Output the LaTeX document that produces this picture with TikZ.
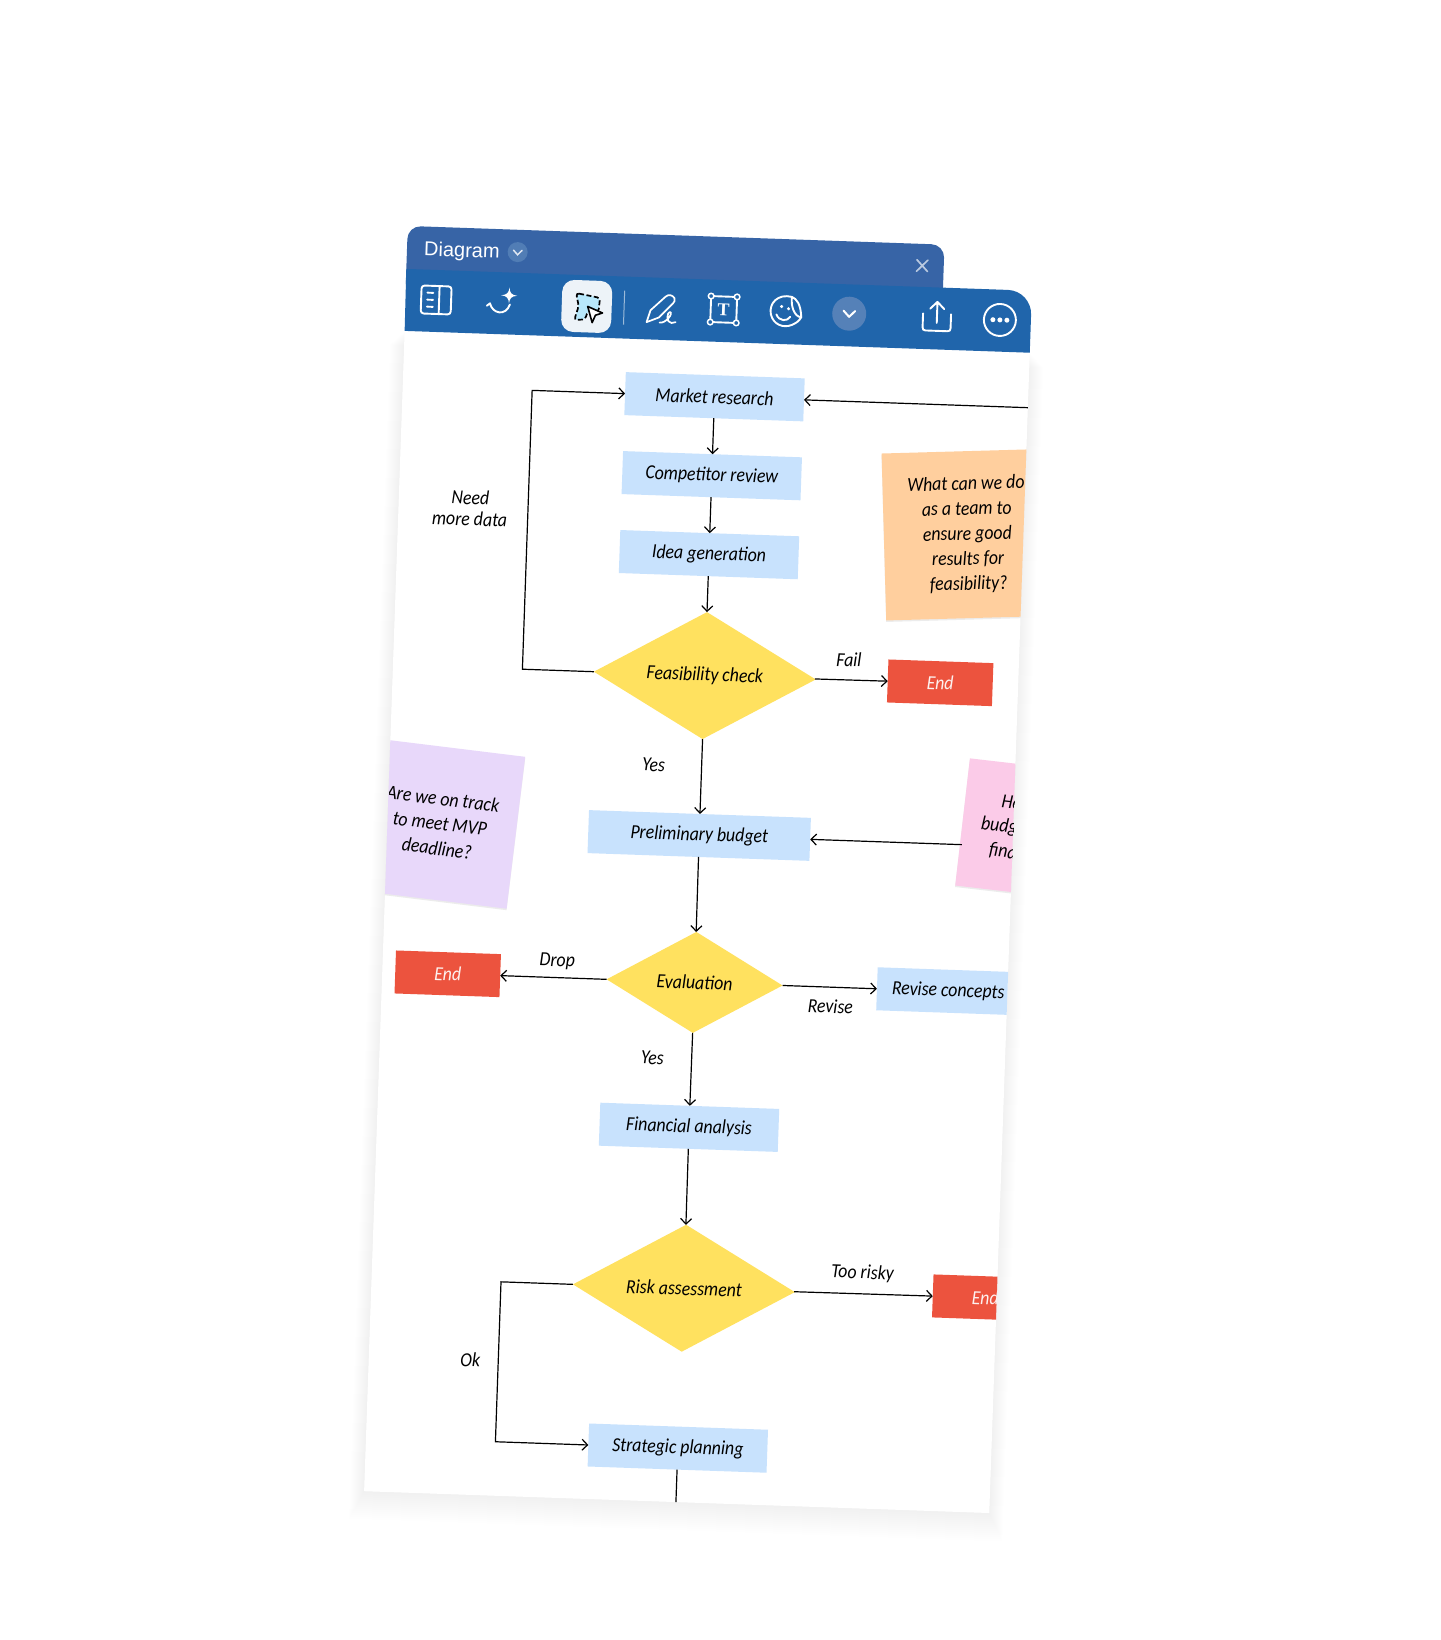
\documentclass[tikz,border=0pt]{standalone}
\usepackage{xcolor}
\usepackage{fontspec}
\setmainfont{Carlito}[FakeStretch=0.89]
\newfontfamily\uifont{Liberation Sans}
\newfontfamily\tifont{Liberation Serif}
\usepackage{tikz}
\usetikzlibrary{arrows.meta,positioning,calc,shadows,shapes.geometric}
\definecolor{tabblue}{RGB}{55,100,166}
\definecolor{barblue}{RGB}{32,101,171}
\definecolor{chipblue}{RGB}{85,129,184}
\definecolor{boxblue}{RGB}{200,226,253}
\definecolor{ideayellow}{RGB}{255,225,95}
\definecolor{stopred}{RGB}{236,83,62}
\definecolor{noteorange}{RGB}{255,207,158}
\definecolor{notepurple}{RGB}{232,216,250}
\definecolor{notepink}{RGB}{251,203,232}

\begin{document}
\begin{tikzpicture}[
  x=1pt, y=-1pt,
  handfont/.style={font=\fontsize{20}{25}\selectfont\itshape},
  box/.style={fill=boxblue, handfont, minimum width=179pt, minimum height=43pt, inner sep=0pt, outer sep=0pt},
  stopbox/.style={fill=stopred, text=white!92!stopred, handfont, minimum width=105pt, minimum height=43pt, inner sep=0pt, outer sep=0pt},
  decision/.style={diamond, shape aspect=2, fill=ideayellow, handfont, minimum width=222pt, minimum height=127pt, inner sep=0pt, outer sep=0pt},
  note/.style={handfont, align=center, inner sep=0pt, outer sep=0pt,
               drop shadow={shadow xshift=0pt, shadow yshift=-1.5pt, opacity=.15}},
  tag/.style={font=\fontsize{20}{21}\selectfont\itshape, inner sep=0pt, align=center},
  arrow/.style={-{Straight Barb[length=5.5pt,width=11pt]}, line width=1.2pt, color=black},
  icon/.style={draw=white, line width=1.9pt, line cap=round, line join=round}]
  \path[use as bounding box, fill=white] (0,0) rectangle (1440,1640);
  \begin{scope}[transform canvas={shift={(406.8pt,-225.9pt)}, rotate=-2}]
    % sheet and bars
    \foreach \grow in {1,...,14} {
      \fill[black, opacity=.004] (1.5-\grow,105+\grow) rectangle (627+\grow,1266+2*\grow);
    }
    \fill[white] (1.5,80) rectangle (627,1266);
    \fill[tabblue, rounded corners=13pt] (1,70) -- (1,0) -- (538,0) -- (538,70) -- cycle;
    \fill[barblue] (1.5,105) -- (1,43) [rounded corners=24pt] -- (627,43) [sharp corners] -- (627,105) -- cycle;
    \node[font=\uifont\fontsize{20}{24}\selectfont, text=white, anchor=west, inner sep=0pt] (title) at (18,24) {Diagram};
    \fill[chipblue!85!tabblue] (111.7,22.3) circle (10);
    \draw[white!85!tabblue, line width=1.5pt, line cap=round] (107.5,20.5) -- (111.7,25) -- (116,20.5);
    \draw[white!65!tabblue, line width=1.7pt, line cap=round] (511,16) -- (522,27.5) (522,16) -- (511,27.5);
    % toolbar icons
    \begin{scope}[shift={(31.9,73)}]
      \draw[icon, rounded corners=3pt] (-15,-14) rectangle (15,14);
      \draw[icon] (3,-14) -- (3,14) (-9,-7) -- (-3,-7) (-9,0) -- (-3,0) (-9,7) -- (-3,7);
    \end{scope}
    \begin{scope}[shift={(97.8,73)}]
      \draw[icon] (-15,4) -- (-12,1.5) .. controls (-9,12) and (4,14) .. (8,2);
      \fill[white] (7,-15) .. controls (7.5,-10) and (9,-7.5) .. (15,-7) .. controls (9,-6.5) and (7.5,-4) .. (7,1) .. controls (6.5,-4) and (5,-6.5) .. (-1,-7) .. controls (5,-7.5) and (6.5,-10) .. (7,-15) -- cycle;
    \end{scope}
    \begin{scope}[shift={(182.6,74.2)}]
      \fill[white!92!barblue, rounded corners=12pt] (-25,-26) rectangle (25,26);
      \draw[black, fill=cyan!28, line width=1.7pt, dashed, dash pattern=on 5pt off 2.5pt, rounded corners=3pt] (-11,-13) -- (13,-9) -- (12,5) -- (1,5) -- (-1,13) -- (-12,14) -- (-8,0) -- cycle;
      \draw[black, fill=white, line width=1.6pt, line join=round] (1,0) -- (16,6) -- (9,8.5) -- (6,16) -- cycle;
    \end{scope}
    \draw[white!55!barblue, line width=1pt] (220,57) -- (220,91);
    \begin{scope}[shift={(257,73.8)}]
      \draw[icon, line width=1.7pt] (-14,14) -- (-10.5,2) -- (4,-12) .. controls (7,-15) and (11,-14) .. (13,-11) .. controls (14,-9) and (13,-7) .. (12,-6) -- (-2,9) -- cycle;
      \draw[icon, line width=1.7pt] (-1,14) .. controls (5,15) and (13,4) .. (9,3) .. controls (6,3) and (5,14) .. (11,14) -- (15,13);
    \end{scope}
    \begin{scope}[shift={(319.6,72.5)}]
      \draw[icon] (-13,-13) rectangle (13,13);
      \foreach \cx in {-13,13} \foreach \cy in {-13,13} {
        \draw[icon, fill=barblue, line width=1.5pt] (\cx,\cy) circle (2.8);
      }
      \node[font=\tifont\bfseries\fontsize{18}{18}\selectfont, text=white, inner sep=0pt] (ticon) at (0,0) {T};
    \end{scope}
    \begin{scope}[shift={(382.4,72.5)}]
      \draw[icon] (5,-15) .. controls (-9,-18) and (-18,-8) .. (-15.5,3) .. controls (-13,13) and (-3,17) .. (6,13) .. controls (10,11) and (13,9) .. (15,5) .. controls (8,5) and (4,-6) .. (5,-15) -- cycle;
      \draw[icon] (5,-15) .. controls (10,-13) and (14,-8) .. (15,5);
      \draw[icon] (-10,3) .. controls (-7,10) and (1,10) .. (4,5);
      \fill[white] (-5,-5) circle (1.7) (2,-3) circle (1.7);
    \end{scope}
    \fill[chipblue] (445.2,72.3) circle (17);
    \draw[white, line width=2pt, line cap=round, line join=round] (439.5,69.5) -- (445.2,75.5) -- (451,69.5);
    \begin{scope}[shift={(533,72.4)}]
      \draw[icon] (-14,-3) -- (-14,11) .. controls (-14,13) and (-13,14) .. (-11,14) -- (11,14) .. controls (13,14) and (14,13) .. (14,11) -- (14,-3);
      \draw[icon] (0,6) -- (0,-15) (-7,-8) -- (0,-15) -- (7,-8);
    \end{scope}
    \begin{scope}[shift={(596,73.3)}]
      \draw[icon] (0,0) circle (16);
      \fill[white] (-7,0) circle (2.5) (0,0) circle (2.5) (7,0) circle (2.5);
    \end{scope}
    % the flow, cut off at the sheet's edges
    \begin{scope}
      \clip (1.5,105) rectangle (627,1266);
      \node[note, fill=noteorange, minimum width=167pt, minimum height=167pt, rotate=3.6] (noteteam) at (571,289) {What can we do\\as a team to\\ensure good\\results for\\feasibility?};
      \node[note, fill=notepurple, minimum width=153pt, minimum height=153pt, rotate=-5] (notemvp) at (54,596) {Are we on track\\to meet MVP\\deadline?};
      \node[note, fill=notepink, minimum width=128pt, minimum height=128pt, rotate=-4.6] (notefund) at (640,581.4) {Has the\\budget been\\finalized?};

      \node[box] (market) at (313.5,160) {Market research};
      \node[box] (competitor) at (313.5,239) {Competitor review};
      \node[box] (idea) at (313.5,318) {Idea generation};
      \node[decision] (feasibility) at (313.5,439) {Feasibility check};
      \node[stopbox] (endfail) at (549,438) {End};
      \node[box, minimum width=222pt] (budget) at (313.5,599) {Preliminary budget};
      \node[decision, minimum width=176pt, minimum height=101pt] (evaluation) at (314,746) {Evaluation};
      \node[stopbox] (enddrop) at (67,746) {End};
      \node[box, text width=149pt, align=flush left] (revise) at (586,746) {Revise concepts};
      \node[box] (financial) at (313.5,891) {Financial analysis};
      \node[decision] (risk) at (314,1052) {Risk assessment};
      \node[stopbox] (endrisk) at (615.5,1051) {End};
      \node[box] (strategic) at (313.5,1212) {Strategic planning};

      \coordinate (edgetop) at (627,160);
      \coordinate (edgeout) at (313.5,1266);
      \coordinate (needcorner) at (131,439);
      \coordinate (okcorner) at (131,1052);

      \draw[arrow] (market) -- (competitor);
      \draw[arrow] (competitor) -- (idea);
      \draw[arrow] (idea) -- (feasibility);
      \draw[arrow] (feasibility) -- (budget);
      \draw[arrow] (budget) -- (evaluation);
      \draw[arrow] (evaluation) -- (financial);
      \draw[arrow] (financial) -- (risk);
      \draw[arrow] (feasibility) -- (endfail);
      \draw[arrow] (evaluation) -- (enddrop);
      \draw[arrow] (evaluation) -- (revise);
      \draw[arrow] (risk) -- (endrisk);
      \draw[arrow] (edgetop) -- (market);
      \draw[arrow] (notefund.west |- budget) -- (budget);
      \draw[line width=1.2pt] (strategic) -- (edgeout);
      % loop back
      \draw[arrow] (feasibility) -- (needcorner) |- (market);
      \draw[arrow] (risk) -- (okcorner) |- (strategic);

      \node[tag] (needlabel) at (73,280) {Need\\more data};
      \node[tag] (oklabel) at (103,1131) {Ok};
      \node[tag] (yesfirst) at (265.5,530) {Yes};
      \node[tag] (yessecond) at (274.5,823) {Yes};
      \node[tag] (faillabel) at (457,418) {Fail};
      \node[tag] (droplabel) at (176,730) {Drop};
      \node[tag] (reviselabel) at (450.5,765) {Revise};
      \node[tag] (risklabel) at (492,1031) {Too risky};
    \end{scope}
  \end{scope}
\end{tikzpicture}
\end{document}
